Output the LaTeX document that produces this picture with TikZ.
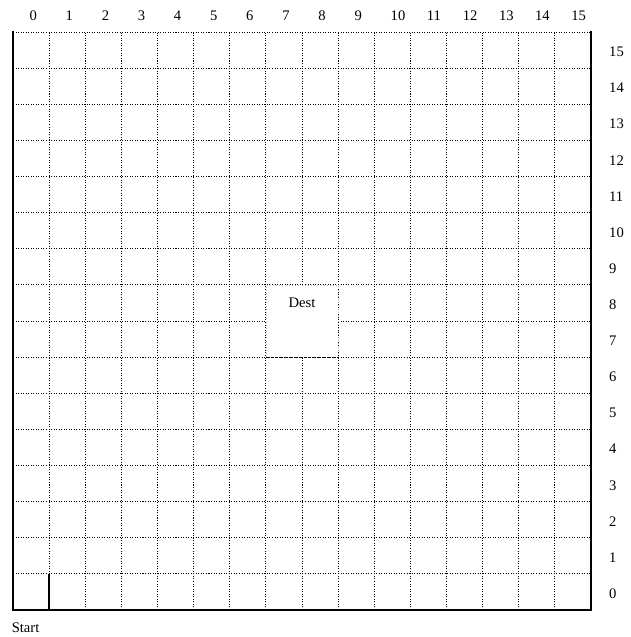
\documentclass[tikz,border=0pt]{standalone}
\usepackage{fontspec}
\setmainfont{Liberation Serif}
\tikzset{
  cellline/.style={dash pattern=on 0.8pt off 1.2pt, line width=0.7pt},
  destline/.style={dotted, line width=0.5pt, gray!60},
  mazewall/.style={line width=1.8pt, line cap=rect},
  label/.style={font=\fontsize{11.5}{13}\selectfont, inner sep=0pt}
}
\begin{document}
\begin{tikzpicture}

% Fix the page size
\useasboundingbox (-0.36,-0.75) rectangle (17.09,16.886);

% Draw the dotted cell grid
\foreach \i in {1,...,15} {
  \draw[cellline] (\i,0) -- (\i,16);
  \draw[cellline] (0,\i) -- (16,\i);
}
\draw[cellline] (0,16) -- (16,16);

% Clear the destination square
\fill[white] (7.03,7.03) rectangle (8.97,8.97);
\draw[destline] (7,7) -- (7,9) -- (9,9) -- (9,7);
\draw[cellline] (7,7) -- (9,7);
\node[label] (dest) at (8,8.5) {Dest};

% Outer walls and the wall next to the start cell
\draw[mazewall] (0,16) -- (0,0) -- (16,0) -- (16,16);
\draw[line width=1.1pt] (1,0) -- (1,1);

% Column and row numbers
\foreach \i in {0,...,15} {
  \node[label, anchor=west] (col\i) at (\i+0.45,16.44) {\i};
  \node[label, anchor=west] (row\i) at (16.5,\i+0.45) {\i};
}

\node[label, anchor=west] (start) at (-0.04,-0.5) {Start};
\end{tikzpicture}
\end{document}
